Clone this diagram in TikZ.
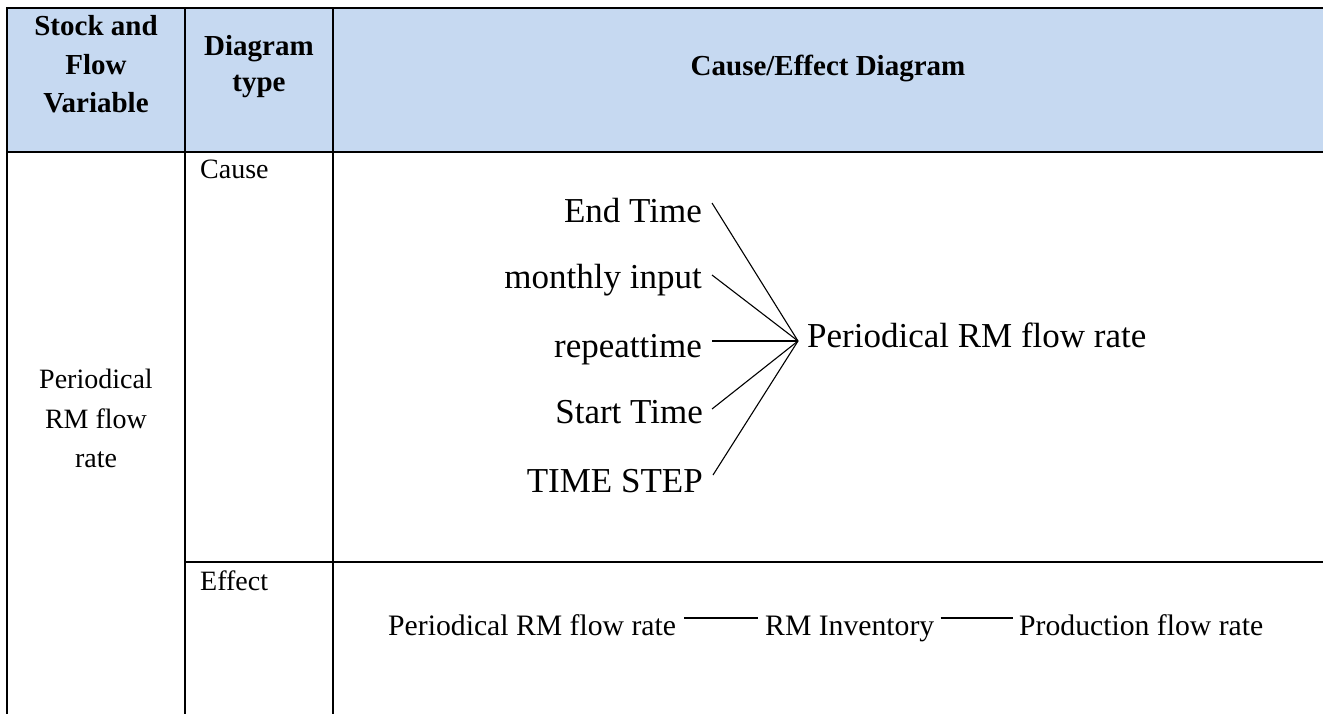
\documentclass[tikz,border=0pt]{standalone}
\usepackage{fontspec}
\setmainfont{Liberation Serif}
\definecolor{hdr}{HTML}{C6D9F1}
\begin{document}
\begin{tikzpicture}[x=1pt,y=-1pt,
  grid/.style={line width=2.6pt},
  conn/.style={line width=1.1pt},
  hd/.style={font=\fontsize{29}{35}\selectfont\bfseries, inner sep=0pt, anchor=base},
  cell/.style={font=\fontsize{28}{34}\selectfont, inner sep=0pt},
  big/.style={font=\fontsize{35}{42}\selectfont, inner sep=0pt},
  small/.style={font=\fontsize{29.7}{35}\selectfont, inner sep=0pt, anchor=base west}]
\useasboundingbox (0,0) rectangle (1323,713);
\clip (0,0) rectangle (1323,713);
% table
\fill[hdr] (7,8) rectangle (1335,152);
\draw[grid] (1335,8) -- (7,8) -- (7,725);
\draw[grid] (7,152) -- (1335,152);
\draw[grid] (185,8) -- (185,725);
\draw[grid] (333,8) -- (333,725);
\draw[grid] (185,562) -- (1335,562);
% header
\node[hd] (h1a) at (96,35) {Stock and};
\node[hd] (h1b) at (96,74) {Flow};
\node[hd] (h1c) at (96,112) {Variable};
\node[hd] (h2a) at (259,55) {Diagram};
\node[hd] (h2b) at (259,91) {type};
\node[hd] (h3) at (828,75) {Cause/Effect Diagram};
% cells
\node[cell, anchor=base west] (cause) at (200,178) {Cause};
\node[cell, anchor=base west] (effect) at (200,590) {Effect};
\node[cell, anchor=base] (v1) at (96,388) {Periodical};
\node[cell, anchor=base] (v2) at (96,428) {RM flow};
\node[cell, anchor=base] (v3) at (96,467) {rate};
% cause diagram
\node[big, anchor=base east] (c1) at (702,222) {End Time};
\node[big, anchor=base east] (c2) at (702,288) {monthly input};
\node[big, anchor=base east] (c3) at (702,357) {repeattime};
\node[big, anchor=base east] (c4) at (703,423) {Start Time};
\node[big, anchor=base east] (c5) at (703,492) {TIME STEP};
\node[big, anchor=base west] (tgt) at (807,347) {Periodical RM flow rate};
\coordinate (m) at ([shift={(-9,-6)}]tgt.base west);
\draw[conn] ([shift={(10,-19)}]c1.base east) -- (m);
\draw[conn] ([shift={(10,-13)}]c2.base east) -- (m);
\draw[conn] ([shift={(10,-16)}]c3.base east) -- (m);
\draw[conn] ([shift={(9,-14)}]c4.base east) -- (m);
\draw[conn] ([shift={(10,-17)}]c5.base east) -- (m);
% effect diagram
\node[small] (e1) at (388,635) {Periodical RM flow rate};
\node[small] (e2) at (765,635) {RM Inventory};
\node[small] (e3) at (1019,635) {Production flow rate};
\draw[conn] ([shift={(8,-17)}]e1.base east) -- ([shift={(-7,-17)}]e2.base west);
\draw[conn] ([shift={(6,-17)}]e2.base east) -- ([shift={(-6,-17)}]e3.base west);
\end{tikzpicture}
\end{document}
